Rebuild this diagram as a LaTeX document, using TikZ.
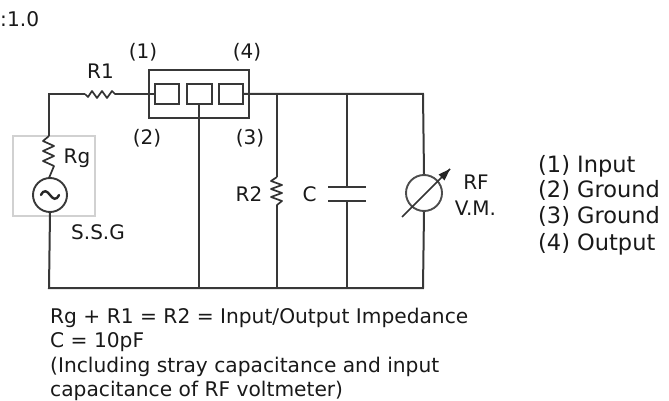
\documentclass[tikz,border=0pt]{standalone}
\usepackage{fontspec}
\setmainfont{DejaVu Sans}
\begin{document}
\begin{tikzpicture}[x=1pt,y=-1pt,
  wire/.style={draw=black!78,line width=2pt},
  thin wire/.style={draw=black!80,line width=1.7pt},
  greybox/.style={draw=black!18,line width=1.5pt},
  lbl/.style={inner sep=0pt,anchor=base,text=black!90,font=\fontsize{20}{22}\selectfont},
  bottomtxt/.style={lbl,anchor=base west,font=\fontsize{20.2}{22}\selectfont},
  legendtxt/.style={lbl,anchor=base west,font=\fontsize{22.5}{24}\selectfont},
  pin/.style={inner sep=0pt,minimum size=0pt}]
\useasboundingbox (0,0) rectangle (669,401);
% grey generator box
\draw[greybox] (13,136) rectangle (95,216);
% coordinates
\coordinate (TL) at (49,94);
\coordinate (BL) at (49,288);
\coordinate (R1a) at (85,94);
\coordinate (R1b) at (116,94);
\coordinate (TopR) at (423,94);
\coordinate (J1) at (277,94);
\coordinate (J2) at (347,94);
\coordinate (G0) at (199,288);
\coordinate (G1) at (277,288);
\coordinate (G2) at (347,288);
\coordinate (G3) at (423,288);
\coordinate (Rga) at (49,136);
\coordinate (Rgb) at (49,178);
\coordinate (R2a) at (277,177);
\coordinate (R2b) at (277,207);
\coordinate (Ca) at (347,187);
\coordinate (Cb) at (347,201);
% device
\draw[wire] (149,70) rectangle (249,118);
\node[draw=black!78,line width=2pt,pin,minimum width=24pt,minimum height=20pt] (P1) at (167,94) {};
\node[draw=black!78,line width=2pt,pin,minimum width=25pt,minimum height=20pt] (P2) at (199,94) {};
\node[draw=black!78,line width=2pt,pin,minimum width=24pt,minimum height=20pt] (P3) at (231,94) {};
% source and meter
\node[circle,draw=black!78,line width=1.9pt,pin,minimum size=34pt] (SRC) at (50,195) {};
\node[circle,draw=black!70,line width=1.9pt,pin,minimum size=36pt] (VM) at (424,193) {};
\draw[line width=2.4pt,black!85,line cap=round] (41,195) .. controls (44,189) and (47,191) .. (50,195) .. controls (53,199) and (56,201) .. (59,195);
% wires
\draw[wire] (R1a) -- (TL) -- (Rga);
\draw[wire] (Rgb) -- (SRC.north);
\draw[wire] (SRC.south) -- (BL) -- (G3) -- (VM.south);
\draw[wire] (R1b) -- (P1.west);
\draw[wire] (P3.east) -- (TopR) -- (VM.north);
\draw[wire] (P2.south) -- (G0);
\draw[wire] (J1) -- (R2a);
\draw[wire] (R2b) -- (G1);
\draw[wire] (J2) -- (Ca);
\draw[wire] (Cb) -- (G2);
% resistors
\draw[thin wire,line join=round] (R1a) -- ++(3,3) -- ++(4,-6) -- ++(5,7) -- ++(5,-7) -- ++(5,7) -- ++(5,-7) -- ++(3,3) -- (R1b);
\draw[thin wire,line join=round] (Rga) -- ++(-6,5) -- ++(11,5) -- ++(-11,5) -- ++(11,5) -- ++(-11,5) -- ++(11,5) -- (Rgb);
\draw[thin wire,line join=round] (R2a) -- ++(-6,4) -- ++(11,4) -- ++(-11,4) -- ++(11,4) -- ++(-11,4) -- ++(11,4) -- ++(-5,4) -- (R2b);
% capacitor
\coordinate (C1l) at (328,187); \coordinate (C1r) at (366,187);
\coordinate (C2l) at (328,201); \coordinate (C2r) at (366,201);
\draw[wire] (C1l) -- (C1r);
\draw[wire] (C2l) -- (C2r);
% meter arrow
\coordinate (Aa) at (402,217); \coordinate (Ab) at (450,169);
\draw[thin wire] (Aa) -- (Ab);
\fill[black!85] (450,169) -- (438.5,174.5) -- (444.5,180.5) -- cycle;
% labels
\node[lbl] (n1) at (143,59) {(1)};
\node[lbl] (n4) at (247,59) {(4)};
\node[lbl] (n2) at (147,145) {(2)};
\node[lbl] (n3) at (250,145) {(3)};
\node[lbl] (nR1) at (100.5,79) {R1};
\node[lbl] (nRg) at (77,163) {Rg};
\node[lbl] (nS) at (98,239) {S.S.G};
\node[lbl] (nR2) at (249,201) {R2};
\node[lbl] (nC) at (309.5,201) {C};
\node[lbl] (nRF) at (476,189) {RF};
\node[lbl] (nVM) at (475.5,215) {V.M.};
\node[bottomtxt] (t0) at (0,27) {:1.0};
\node[legendtxt] (l1) at (538,172) {(1) Input};
\node[legendtxt] (l2) at (538,197) {(2) Ground};
\node[legendtxt] (l3) at (538,223) {(3) Ground};
\node[legendtxt] (l4) at (538,250) {(4) Output};
\node[bottomtxt] (b1) at (50,323) {Rg + R1 = R2 = Input/Output Impedance};
\node[bottomtxt] (b2) at (50,347) {C = 10pF};
\node[bottomtxt] (b3) at (50,372) {(Including stray capacitance and input};
\node[bottomtxt] (b4) at (50,396) {capacitance of RF voltmeter)};
\end{tikzpicture}
\end{document}
